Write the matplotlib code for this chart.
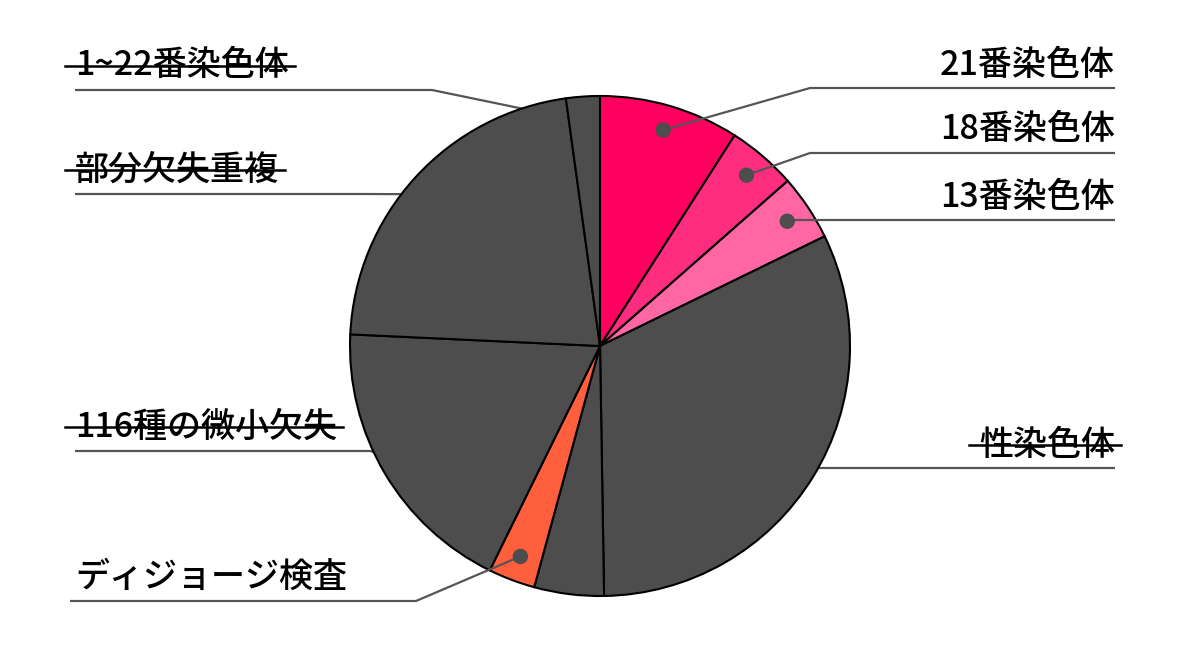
import matplotlib.pyplot as plt
import numpy as np

plt.rcParams['font.family'] = ['Noto Sans CJK JP', 'DejaVu Sans']

labels = ['21番染色体', '18番染色体', '13番染色体', '性染色体', '',
          'ディジョージ検査', '116種の微小欠失', '部分欠失重複', '1~22番染色体']
values = [9.05, 4.47, 4.25, 31.97, 4.5, 3.03, 18.47, 22.08, 2.18]
colors = ['#FF0060', '#FF2D80', '#FF66A3', '#4D4D4D', '#4D4D4D',
          '#FF5F3D', '#4D4D4D', '#4D4D4D', '#4D4D4D']
struck = [False, False, False, True, False, False, True, True, True]

# label layout: side, line y (pixel from top), elbow x
line_y = [88, 153, 220, 468, None, 601, 451, 194, 90]
elbow_x = [810, 810, None, None, None, 416, 370, 363, 432]
side = ['r', 'r', 'r', 'r', None, 'l', 'l', 'l', 'l']

W, H = 1200, 657
cx, cy, R = 600, H - 346, 250

fig = plt.figure(figsize=(12, 6.57), dpi=100)
ax = fig.add_axes([0, 0, 1, 1])

wedges, _ = ax.pie(values, colors=colors, startangle=90, counterclock=False,
                   center=(cx, cy), radius=R, frame=True,
                   wedgeprops=dict(edgecolor='black', linewidth=1.5, zorder=2))
ax.set_xlim(0, W)
ax.set_ylim(0, H)
ax.axis('off')

texts = []
for w, lab, ly, ex, sd, st, c in zip(wedges, labels, line_y, elbow_x, side,
                                      struck, colors):
    if not lab:
        continue
    gray = c == '#4D4D4D'
    mid = np.deg2rad((w.theta1 + w.theta2) / 2)
    px = cx + 0.9 * R * np.cos(mid)
    py = cy + 0.9 * R * np.sin(mid)
    y = H - ly
    if sd == 'r':
        if ex:
            xs, ys = [px, ex, 1115], [py, y, y]
        else:
            xs, ys = [px, 1115], [y, y]
        t = ax.text(1115, y + 23, lab, ha='right', va='center', fontsize=24.5,
                    fontweight='medium')
    else:
        x0 = 70 if lab.startswith('ディ') else 75
        xs, ys = [px, ex, x0], [py, y, y]
        t = ax.text(75, y + 24, lab, ha='left', va='center', fontsize=24.5,
                    fontweight='medium')
    ax.plot(xs, ys, color='#555555', lw=1.6, zorder=1 if gray else 3,
            solid_capstyle='butt')
    if not gray:
        ax.add_patch(plt.Circle((px, py), 7, color='#4D4D4D', zorder=4))
    texts.append((t, st))

fig.canvas.draw()
r = fig.canvas.get_renderer()
inv = ax.transData.inverted()
for t, st in texts:
    if not st:
        continue
    bb = t.get_window_extent(r)
    (x0, y0), (x1, y1) = inv.transform([(bb.x0, bb.y0), (bb.x1, bb.y1)])
    ym = (y0 + y1) / 2
    ax.plot([x0 - 10, x1 + 6], [ym, ym], color='black', lw=1.8, zorder=5)

fig.savefig('out.png', dpi=100)
